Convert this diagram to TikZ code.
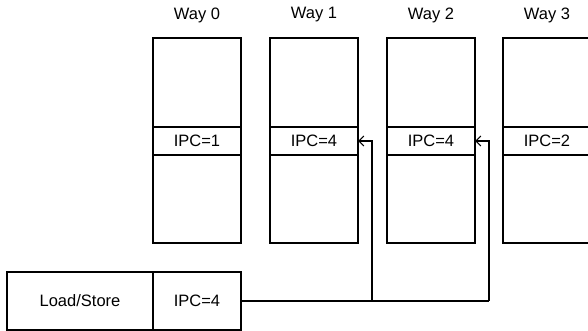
\documentclass[tikz,border=0pt]{standalone}
\usepackage{fontspec}
\setmainfont{Liberation Sans}
\usetikzlibrary{arrows.meta}
\begin{document}
\begin{tikzpicture}[x=1pt,y=-1pt,
  font=\fontsize{16.5}{19}\selectfont,
  cell/.style={draw,line width=1.1pt,minimum width=88pt,inner sep=0pt,outer sep=0pt,anchor=north west},
  lbl/.style={inner sep=0pt},
  conn/.style={line width=1.1pt},
  arr/.style={conn,-{Straight Barb[length=5pt,width=10pt,line width=1.1pt]}}]
\clip (0,0) rectangle (588,331);
\foreach \i/\x/\v in {0/153/1,1/270/4,2/387/4,3/503/2}{
  \node[cell,minimum height=89pt] (w\i t) at (\x,38) {};
  \node[cell,minimum height=28pt] (w\i m) at (\x,127) {IPC=\v};
  \node[cell,minimum height=88pt] (w\i b) at (\x,155) {};
  \node[lbl] (w\i l) at (\x+44,15) {Way \i};
}
\node[cell,minimum width=146pt,minimum height=58pt] (ls) at (7,272) {Load/Store};
\node[cell,minimum height=58pt] (lsipc) at (153,272) {IPC=4};
\coordinate (j1) at (372,301);
\coordinate (j2) at (489,301);
\draw[conn] (lsipc.east) -- (j2);
\draw[arr] (j2) |- (w2m.east);
\draw[arr] (j1) |- (w1m.east);
\end{tikzpicture}
\end{document}
